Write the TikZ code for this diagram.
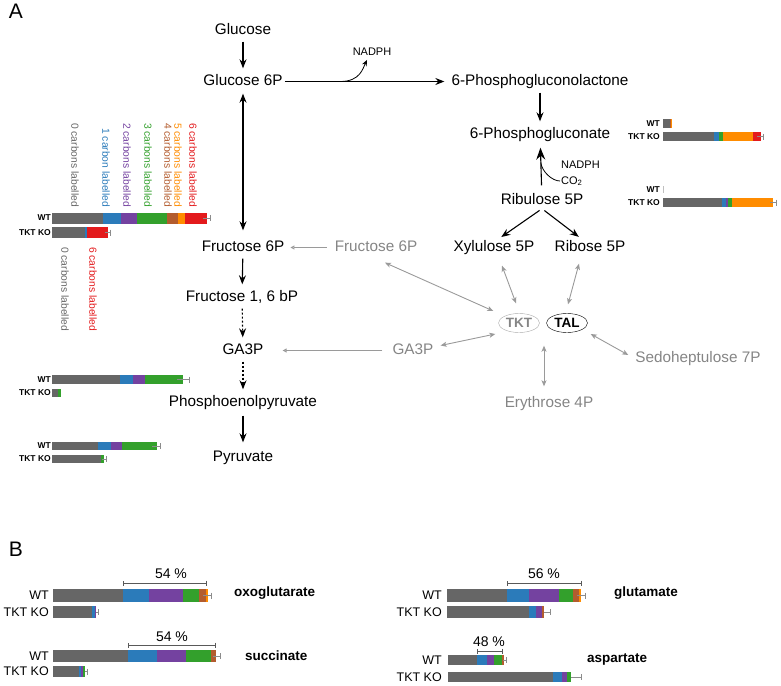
\documentclass[tikz,border=0pt]{standalone}
\usepackage{fontspec}
\setmainfont{Liberation Sans}
\usetikzlibrary{calc,arrows.meta,shapes.geometric}
\definecolor{cZero}{HTML}{666666}
\definecolor{cOne}{HTML}{2B7BBA}
\definecolor{cTwo}{HTML}{7442A0}
\definecolor{cThree}{HTML}{33A02C}
\definecolor{cFour}{HTML}{B35C2E}
\definecolor{cFive}{HTML}{FF8C00}
\definecolor{cSix}{HTML}{E31A1C}
\definecolor{txtgray}{HTML}{858585}
\definecolor{arrgray}{HTML}{9A9A9A}
\definecolor{ellgray}{HTML}{AAAAAA}
\tikzset{
  met/.style={font=\fontsize{15.3}{18}\selectfont, inner sep=1pt, text height=11pt, text depth=3pt},
  metgray/.style={met, text=txtgray},
  note/.style={font=\fontsize{11}{13}\selectfont, inner sep=1pt},
  enzyme/.style={ellipse, draw, font=\bfseries\fontsize{13.5}{15}\selectfont, inner sep=0pt, minimum width=41pt, minimum height=19pt},
  flow/.style={-{Stealth[length=9pt,width=7pt,inset=3pt]}, line width=1.1pt, shorten <=3pt, shorten >=5pt},
  sideflow/.style={-{Stealth[length=6pt,width=5pt,inset=2pt]}, line width=0.8pt},
  hub/.style={{Stealth[length=6pt,width=5pt,inset=1.5pt]}-{Stealth[length=6pt,width=5pt,inset=1.5pt]}, draw=arrgray, line width=0.9pt},
  feed/.style={-{Triangle[open,length=4pt,width=4pt]}, draw=arrgray, line width=0.9pt},
  barname/.style={font=\bfseries\fontsize{8.5}{10}\selectfont, anchor=east, inner sep=1pt},
  rowname/.style={font=\fontsize{12.5}{14}\selectfont, anchor=east, inner sep=1pt},
  metname/.style={font=\bfseries\fontsize{13.5}{15}\selectfont, anchor=west, inner sep=1pt},
  legend/.style={font=\fontsize{10.3}{12}\selectfont, rotate=-90, inner sep=0pt},
  errbar/.style={draw=black!45, line width=0.6pt},
  bracket/.style={{Bar[width=5pt]}-{Bar[width=5pt]}, draw=black!65, line width=0.8pt},
  pct/.style={font=\fontsize{14}{16}\selectfont, inner sep=1pt},
  panel/.style={font=\fontsize{21}{24}\selectfont, inner sep=0pt},
}
\newcommand*{\StackBar}[3]{% #1 = list of x/x'/colour, #2 = top, #3 = bottom
\foreach \xa/\xb/\col in {#1} {
\fill [\col] (\xa,#2) rectangle (\xb,#3);
}%
}
\newcommand*{\ErrorBar}[3]{% #1 = from x, #2 = to x, #3 = middle y
\draw [errbar] (#1,#3) -- (#2,#3) (#2,#3-3) -- (#2,#3+3);
}
\newcommand*{\LegendCol}[4]{% #1 = list of x/colour/text, #2 = y, #3 = anchor, #4 = name
\foreach \x/\col/\text [count=\i] in {#1} {
\node (#4\i) [legend, text=\col, anchor=#3] at (\x,#2) {\text};
}%
}

\begin{document}
\begin{tikzpicture}[x=1pt,y=-1pt]
\useasboundingbox (0,0) rectangle (781,685);

\node (lblA) [panel] at (16,11) {A};
\node (lblB) [panel] at (16,549) {B};

% metabolites
\node (glc) [met] at (243,30.5) {Glucose};
\node (g6p) [met] at (243,81.5) {Glucose 6P};
\node (pgl) [met] at (540,81.5) {6-Phosphogluconolactone};
\node (pg) [met] at (540,134.5) {6-Phosphogluconate};
\node (ru5p) [met] at (542,200.5) {Ribulose 5P};
\node (xyl) [met] at (494,247.5) {Xylulose 5P};
\node (rib) [met] at (590,247.5) {Ribose 5P};
\node (f6p) [met] at (243,247.5) {Fructose 6P};
\node (fru6pg) [metgray] at (376,247.5) {Fructose 6P};
\node (f16) [met] at (242,297.5) {Fructose 1, 6 bP};
\node (ga3p) [met] at (243,350.5) {GA3P};
\node (ga3pg) [metgray] at (413,350.5) {GA3P};
\node (pep) [met] at (243,402.5) {Phosphoenolpyruvate};
\node (pyr) [met] at (243,457.5) {Pyruvate};
\node (ery) [metgray] at (549,403.5) {Erythrose 4P};
\node (sed) [metgray] at (698,358.5) {Sedoheptulose 7P};
\node (nadph1) [note] at (372,52) {NADPH};
\node (nadph2) [note, anchor=west] at (560,165) {NADPH};
\node (co2) [note, anchor=west] at (560,181) {CO\textsubscript{2}};

% enzymes
\node (tkt) [enzyme, draw=ellgray, text=txtgray] at (519,323) {TKT};
\node (tal) [enzyme] at (567,323) {TAL};

% main flow
\draw [flow] (glc) -- (g6p);
\draw [flow, shorten <=1pt, shorten >=6pt] (g6p) -- coordinate[pos=0.34] (oxA) (pgl);
\draw [sideflow] (oxA) .. controls +(20,0) and +(-4,8) .. ($(nadph1.south)+(-5,3)$);
\draw [flow] (pgl) -- (pg);
\draw [flow, -{Stealth[length=12pt,width=9pt,inset=4pt]}, shorten <=7pt, shorten >=5pt] (ru5p) -- coordinate[pos=0.6] (oxB) (pg);
\draw [line width=0.8pt] (oxB) .. controls +(1,9) and +(-8,0) .. (co2.west);
\draw [flow, shorten >=4pt] (ru5p.south) -- ([xshift=4pt]xyl.north);
\draw [flow, shorten >=4pt] (ru5p.south) -- ([xshift=-8pt]rib.north);
\draw [flow, {Stealth[length=9pt,width=7pt,inset=3pt]}-{Stealth[length=9pt,width=7pt,inset=3pt]}, shorten <=4pt, shorten >=9pt] (g6p) -- (f6p);
\draw [flow] (f6p) -- (f16);
\draw [flow, dashed, dash pattern=on 2pt off 2pt, shorten >=5pt] (f16) -- (ga3p);
\draw [flow, dashed, dash pattern=on 2pt off 2pt] (ga3p) -- (pep);
\draw [flow, shorten <=5pt, shorten >=7pt] (pep) -- (pyr);
\draw [feed, shorten <=7pt, shorten >=5pt] (fru6pg) -- (f6p);
\draw [feed, shorten <=9pt, shorten >=18pt] (ga3pg) -- (ga3p);

% transketolase / transaldolase exchange
\draw [hub] ($(fru6pg.south)+(9,7)$) -- ($(tkt.west)+(-5,-12)$);
\draw [hub] ($(xyl.south)+(8,10)$) -- ($(tkt.north)+(-3,-10)$);
\draw [hub] ($(rib.south)+(-11,8)$) -- ($(tal.north)+(1,-9)$);
\draw [hub] ($(ga3pg.east)+(6,-5)$) -- ($(tkt.west)+(-3,11)$);
\draw [hub] ($(ery.north)+(-5,-9)$) -- ($(tkt.south)!0.5!(tal.south)+(1,13)$);
\draw [hub] ($(sed.west)+(-6,-3.5)$) -- ($(tal.east)+(3,11)$);

% labelling legend
\LegendCol{75/cZero/0 carbons labelled, 106/cOne/1 carbon labelled, 127/cTwo/2 carbons labelled, 148/cThree/3 carbons labelled, 168/cFour/4 carbons labelled, 178/cFive/5 carbons labelled, 193/cSix/6 carbons labelled}{207}{east}{legT}
\LegendCol{65/cZero/0 carbons labelled, 93/cSix/6 carbons labelled}{247}{west}{legB}

% hexose phosphate bars
\node (wtA) [barname] at (52,218) {WT};
\node (koA) [barname] at (52,232.5) {TKT KO};
\StackBar{52/103/cZero, 103/121/cOne, 121/137/cTwo, 137/167/cThree, 167/178/cFour, 178/185/cFive, 185/207/cSix}{212.5}{223.5}
\ErrorBar{203}{210}{218}
\StackBar{52/85/cZero, 85/87/cOne, 87/108/cSix}{227}{238}
\ErrorBar{105}{110}{232.5}

% phosphoenolpyruvate bars
\node (wtB) [barname] at (52,379.5) {WT};
\node (koB) [barname] at (52,393) {TKT KO};
\StackBar{52/120/cZero, 120/133/cOne, 133/145/cTwo, 145/183/cThree}{375}{384}
\ErrorBar{177}{189}{379.5}
\StackBar{52/58/cZero, 58/61/cThree}{389}{397}

% pyruvate bars
\node (wtC) [barname] at (52,446) {WT};
\node (koC) [barname] at (52,459) {TKT KO};
\StackBar{52/98/cZero, 98/111/cOne, 111/122/cTwo, 122/157/cThree}{442}{450}
\ErrorBar{152}{160}{446}
\StackBar{52/101/cZero, 101/104/cThree}{455}{463}
\ErrorBar{102}{106}{459}

% 6-phosphogluconate bars
\node (wtD) [barname] at (661,123.5) {WT};
\node (koD) [barname] at (661,136.5) {TKT KO};
\StackBar{663/670/cZero, 670/671/cFour, 671/672/cFive}{119}{128}
\StackBar{663/714/cZero, 714/719/cOne, 719/723/cThree, 723/753/cFive, 753/761/cSix}{132}{141}
\ErrorBar{757}{763}{136.5}

% ribulose bars
\node (wtE) [barname] at (661,189.5) {WT};
\node (koE) [barname] at (661,202.5) {TKT KO};
\draw [black!25, line width=0.8pt] (663.5,186) -- (663.5,193);
\StackBar{663/722/cZero, 722/726/cOne, 726/728/cTwo, 728/732/cThree, 732/773/cFive}{198}{207}
\ErrorBar{770}{776}{202.5}

% panel B: oxoglutarate
\node (wtF) [rowname] at (50,595.5) {WT};
\node (koF) [rowname] at (50,612) {TKT KO};
\node (oxo) [metname] at (233,593) {oxoglutarate};
\StackBar{53/123/cZero, 123/149/cOne, 149/183/cTwo, 183/199/cThree, 199/206/cFour, 206/208/cFive}{589}{602}
\ErrorBar{203}{211}{595.5}
\StackBar{53/92/cZero, 92/95/cOne, 95/96/cTwo}{606}{618}
\ErrorBar{96}{98}{612}
\node (pF) [pct] at (171,574) {54 \%};
\draw [bracket] (123,583) -- (207,583);

% succinate
\node (wtG) [rowname] at (50,656) {WT};
\node (koG) [rowname] at (50,671.5) {TKT KO};
\node (suc) [metname] at (244,656) {succinate};
\StackBar{53/128/cZero, 128/157/cOne, 157/186/cTwo, 186/211/cThree, 211/216/cFour}{650}{662}
\ErrorBar{213}{220}{656}
\StackBar{53/79/cZero, 79/81/cOne, 81/83/cTwo, 83/85/cThree}{666}{677}
\ErrorBar{85}{87}{671.5}
\node (pG) [pct] at (172,637) {54 \%};
\draw [bracket] (128,645) -- (216,645);

% glutamate
\node (wtH) [rowname] at (443,595.5) {WT};
\node (koH) [rowname] at (443,612) {TKT KO};
\node (glu) [metname] at (613,593) {glutamate};
\StackBar{447/507/cZero, 507/529/cOne, 529/559/cTwo, 559/573/cThree, 573/579/cFour, 579/581/cFive}{589}{602}
\ErrorBar{577}{585}{595.5}
\StackBar{447/529/cZero, 529/536/cOne, 536/542/cTwo, 542/544/cFour}{606}{618}
\ErrorBar{544}{550}{612}
\node (pH) [pct] at (544,574) {56 \%};
\draw [bracket] (507,583) -- (582,583);

% aspartate
\node (wtI) [rowname] at (443,660) {WT};
\node (koI) [rowname] at (443,677) {TKT KO};
\node (asp) [metname] at (586,659) {aspartate};
\StackBar{448/477/cZero, 477/487/cOne, 487/494/cTwo, 494/502/cThree, 502/504/cFour}{655}{665}
\ErrorBar{503}{506}{660}
\StackBar{448/553/cZero, 553/562/cOne, 562/567/cTwo, 567/571/cThree}{672}{682}
\ErrorBar{571}{581}{677}
\node (pI) [pct] at (489,642) {48 \%};
\draw [bracket] (477,651) -- (503,651);

\end{tikzpicture}
\end{document}
